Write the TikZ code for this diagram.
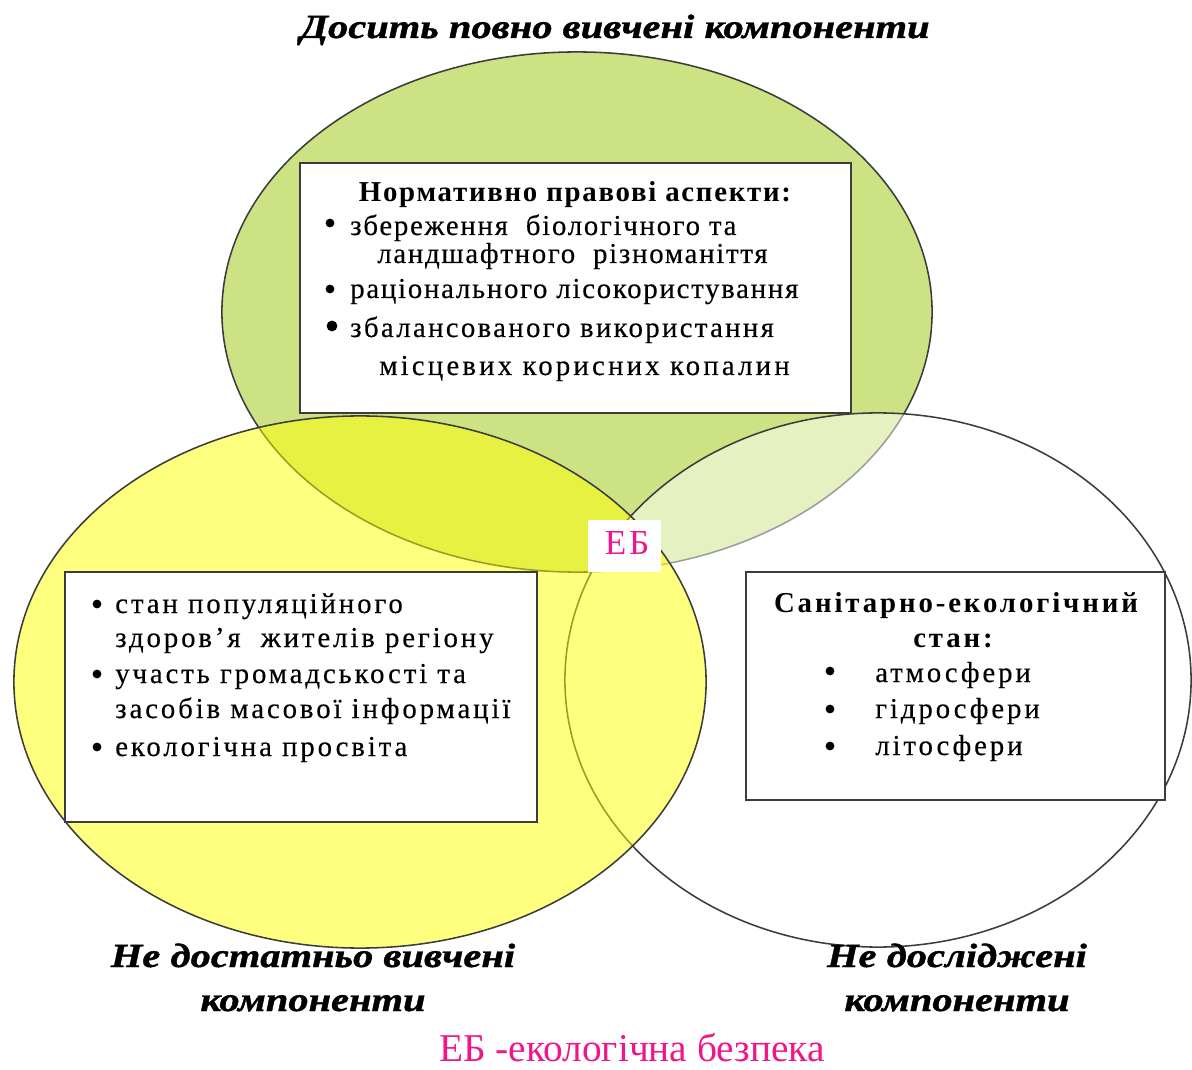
\documentclass[tikz,border=0pt]{standalone}
\usepackage{fontspec}
\setmainfont{Liberation Serif}
\newfontfamily\topbody[LetterSpace=6,FakeBold=0.3]{Liberation Serif}
\newfontfamily\sidebody[LetterSpace=10,FakeBold=0.3]{Liberation Serif}
\newfontfamily\tophead[LetterSpace=6]{Liberation Serif}
\newfontfamily\sidehead[LetterSpace=10]{Liberation Serif}
\newfontfamily\headfont[FakeStretch=1.2,FakeBold=1.2]{Liberation Serif}
\newfontfamily\legendfont{Liberation Serif}
\newfontfamily\ebfont[LetterSpace=8]{Liberation Serif}
\definecolor{greenfill}{HTML}{CDE383}
\definecolor{yellowfill}{HTML}{FFFF00}
\definecolor{ebpink}{HTML}{F0168A}
\definecolor{edgegray}{HTML}{3C3C3C}
\tikzset{
  venn/.style={draw=edgegray, line width=1.1pt},
  boxnode/.style={draw=edgegray, line width=1.3pt, fill=white, rectangle, inner sep=0pt},
  toptext/.style={anchor=base west, inner sep=0pt, font=\topbody\fontsize{20.5pt}{24pt}\selectfont},
  sidetext/.style={anchor=base west, inner sep=0pt, font=\sidebody\fontsize{20.5pt}{24pt}\selectfont},
  dot/.style={circle, fill=black, draw=none, inner sep=0pt, minimum size=0.22cm},
  bigdot/.style={dot, minimum size=0.27cm},
  topheading/.style={anchor=base, inner sep=0pt, font=\tophead\bfseries\fontsize{20.5pt}{24pt}\selectfont},
  sideheading/.style={anchor=base, inner sep=0pt, font=\sidehead\bfseries\fontsize{20.5pt}{24pt}\selectfont},
  maintitle/.style={anchor=base, inner sep=0pt, font=\headfont\bfseries\itshape\fontsize{24pt}{28pt}\selectfont},
  legendtext/.style={anchor=base, inner sep=0pt, text=ebpink, font=\legendfont\fontsize{28pt}{30pt}\selectfont}
}
\begin{document}
\begin{tikzpicture}[x=0.025cm,y=-0.025cm]
\useasboundingbox (0,0) rectangle (1192,1070);
\fill[white] (0,0) rectangle (1192,1070);

% Venn ellipses
\draw[venn, fill=greenfill] (577,312) ellipse [x radius=8.875cm, y radius=6.5cm];
\draw[venn, fill=white, fill opacity=0.5] (878,680) ellipse [x radius=7.825cm, y radius=6.675cm];
\draw[venn, fill=yellowfill, fill opacity=0.5] (360,682) ellipse [x radius=8.65cm, y radius=6.65cm];

% boxes
\node[boxnode, minimum width=13.775cm, minimum height=6.25cm] (topbox) at (575.5,288) {};
\node[boxnode, minimum width=11.8cm, minimum height=6.25cm] (leftbox) at (301,697) {};
\node[boxnode, minimum width=10.475cm, minimum height=5.7cm] (rightbox) at (955.5,686) {};
\node[fill=white, minimum width=1.825cm, minimum height=1.3cm, inner sep=0pt] (ebbox) at (624.5,546) {};
\node[anchor=base, inner sep=0pt, text=ebpink, font=\ebfont\fontsize{25pt}{28pt}\selectfont] (eb) at (627,554) {ЕБ};

% top box text
\node[topheading] (t0) at (575,202) {Нормативно правові аспекти:};
\node[dot] (tb1) at (330,223) {};
\node[toptext] (t1) at (350,235) {збереження\ \ біологічного та};
\node[toptext] (t2) at (377,263) {ландшафтного\ \ різноманіття};
\node[dot] (tb3) at (330,289) {};
\node[toptext] (t3) at (350,298) {раціонального лісокористування};
\node[bigdot] (tb4) at (332,326) {};
\node[toptext] (t4) at (350,337) {\addfontfeature{LetterSpace=8}збалансованого використання};
\node[toptext] (t5) at (379,375) {\addfontfeature{LetterSpace=11}місцевих корисних копалин};

% left box text
\node[dot] (lb1) at (97,604) {};
\node[sidetext] (l1) at (115,613) {стан популяційного};
\node[sidetext] (l2) at (115,647) {здоров’я\ \ жителів регіону};
\node[dot] (lb3) at (97,674) {};
\node[sidetext] (l3) at (115,683) {участь громадськості та};
\node[sidetext] (l4) at (115,718) {засобів масової інформації};
\node[dot] (lb5) at (97,747) {};
\node[sidetext] (l5) at (115,756) {екологічна просвіта};

% right box text
\node[sideheading] (r0) at (956,612) {Санітарно-екологічний};
\node[sideheading] (r0b) at (953,647) {стан:};
\node[dot] (rb1) at (830,671) {};
\node[sidetext] (r1) at (875,682) {атмосфери};
\node[dot] (rb2) at (830,709) {};
\node[sidetext] (r2) at (875,718) {гідросфери};
\node[dot] (rb3) at (830,746) {};
\node[sidetext] (r3) at (875,755) {літосфери};

% titles
\node[maintitle] (title) at (615,38) {Досить повно вивчені компоненти};
\node[maintitle] (bl1) at (313,967) {Не достатньо вивчені};
\node[maintitle] (bl2) at (313,1011) {компоненти};
\node[maintitle] (br1) at (957,967) {Не досліджені};
\node[maintitle] (br2) at (957,1011) {компоненти};

% legend
\node[legendtext] (legend) at (632,1061) {ЕБ -екологічна безпека};
\end{tikzpicture}
\end{document}
